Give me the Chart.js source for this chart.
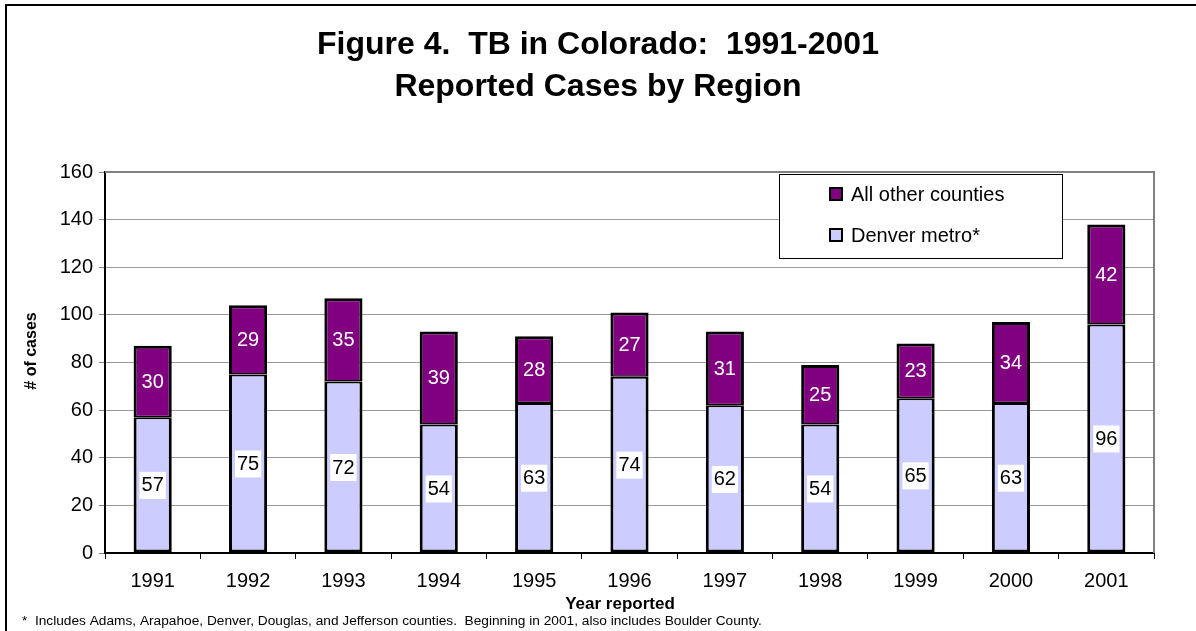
<!DOCTYPE html>
<html lang="en">
<head>
  <meta charset="UTF-8">
  <title>TB in Colorado 1991-2001</title>
  <script src="https://cdn.jsdelivr.net/npm/chart.js@4.4.1/dist/chart.umd.min.js"></script>
  <style>
    body { margin: 0; background: #fff; }
    canvas { display: block; }
  </style>
</head>
<body>
  <canvas id="myChart" width="1196" height="631"></canvas>

  <script>
  var years = ['1991', '1992', '1993', '1994', '1995', '1996', '1997', '1998', '1999', '2000', '2001'];
  var denverMetro = [57, 75, 72, 54, 63, 74, 62, 54, 65, 63, 96];
  var otherCounties = [30, 29, 35, 39, 28, 27, 31, 25, 23, 34, 42];
  var yTicks = [0, 20, 40, 60, 80, 100, 120, 140, 160];

  var FONT = "'Liberation Sans', Arial, Helvetica, sans-serif";

  // frame, titles, plot border, value labels, legend box, footnote
  var decor = {
    id: 'decor',
    beforeDraw: function(chart) {
      var ctx = chart.ctx;
      ctx.save();
      ctx.fillStyle = '#fff';
      ctx.fillRect(0, 0, chart.width, chart.height);
      ctx.strokeStyle = '#000';
      ctx.lineWidth = 2;
      ctx.beginPath();
      ctx.moveTo(6, chart.height + 5);
      ctx.lineTo(6, 5);
      ctx.lineTo(chart.width + 5, 5);
      ctx.stroke();

      ctx.fillStyle = '#000';
      ctx.textAlign = 'center';
      ctx.textBaseline = 'middle';
      ctx.font = 'bold 32px ' + FONT;
      ctx.fillText('Figure 4.  TB in Colorado:  1991-2001', 598, 45);
      ctx.fillText('Reported Cases by Region', 598, 87);
      ctx.restore();
    },
    beforeDatasetsDraw: function(chart) {
      var a = chart.chartArea, ctx = chart.ctx;
      ctx.save();
      ctx.strokeStyle = '#808080';
      ctx.lineWidth = 2;
      ctx.beginPath();
      ctx.moveTo(a.left, a.top);
      ctx.lineTo(a.right, a.top);
      ctx.lineTo(a.right, a.bottom);
      ctx.stroke();
      ctx.restore();
    },
    afterDatasetsDraw: function(chart) {
      var ctx = chart.ctx;
      ctx.save();
      ctx.font = '20px ' + FONT;
      ctx.textAlign = 'center';
      ctx.textBaseline = 'middle';
      chart.data.datasets.forEach(function(ds, i) {
        var meta = chart.getDatasetMeta(i);
        meta.data.forEach(function(bar, j) {
          var y = (bar.y + bar.base) / 2;
          var txt = String(ds.data[j]);
          if (i === 0) {
            var w = ctx.measureText(txt).width + 4;
            ctx.fillStyle = '#fff';
            ctx.fillRect(bar.x - w / 2, y - 13, w, 27);
            ctx.fillStyle = '#000';
          } else {
            ctx.fillStyle = '#fff';
          }
          ctx.fillText(txt, bar.x, y + 1);
        });
      });

      // legend
      var lx = 779, ly = 174, lw = 283, lh = 84;
      ctx.fillStyle = '#fff';
      ctx.fillRect(lx, ly, lw, lh);
      ctx.strokeStyle = '#000';
      ctx.lineWidth = 1;
      ctx.strokeRect(lx + 0.5, ly + 0.5, lw, lh);
      ctx.textAlign = 'left';
      var items = chart.data.datasets.slice().reverse();
      items.forEach(function(ds, k) {
        var cy = 194 + k * 41;
        ctx.fillStyle = ds.backgroundColor;
        ctx.fillRect(830, cy - 6, 12, 12);
        ctx.lineWidth = 2;
        ctx.strokeRect(830, cy - 6, 12, 12);
        ctx.fillStyle = '#000';
        ctx.fillText(ds.label, 851, cy + 1);
      });

      // axis titles and footnote
      ctx.font = 'bold 17px ' + FONT;
      ctx.textAlign = 'center';
      ctx.fillText('Year reported', 620, 604);
      ctx.font = 'bold 16px ' + FONT;
      ctx.save();
      ctx.translate(32, 351);
      ctx.rotate(-Math.PI / 2);
      ctx.fillText('# of cases', 0, 0);
      ctx.restore();
      ctx.font = '13.7px ' + FONT;
      ctx.textAlign = 'left';
      ctx.fillText('*  Includes Adams, Arapahoe, Denver, Douglas, and Jefferson counties.  Beginning in 2001, also includes Boulder County.', 22, 621);
      ctx.restore();
    }
  };

  var ctx = document.getElementById('myChart');
  var myChart = new Chart(ctx, {
    type: 'bar',
    data: {
      labels: years,
      datasets: [{
        label: 'Denver metro*',
        data: denverMetro,
        backgroundColor: '#CCCCFF',
        borderColor: '#000',
        borderWidth: { top: 2, left: 3, right: 3, bottom: 3 },
        borderSkipped: false
      }, {
        label: 'All other counties',
        data: otherCounties,
        backgroundColor: '#800080',
        borderColor: '#000',
        borderWidth: { top: 3, left: 3, right: 3, bottom: 1.5 },
        borderSkipped: false
      }]
    },
    options: {
      responsive: false,
      animation: false,
      devicePixelRatio: 1,
      layout: { padding: { top: 172, right: 42, bottom: 0, left: 0 } },
      datasets: { bar: { categoryPercentage: 1, barPercentage: 0.4 } },
      plugins: {
        legend: { display: false },
        title: { display: false },
        tooltip: { enabled: false }
      },
      scales: {
        x: {
          stacked: true,
          offset: true,
          afterFit: function(s) { s.height = 78; },
          grid: { offset: true, drawOnChartArea: false, drawTicks: true, tickLength: 6, color: '#000', lineWidth: 1 },
          border: { display: true, color: '#000', width: 2 },
          ticks: { color: '#000', padding: 10, font: { family: FONT, size: 20 }, maxRotation: 0 }
        },
        y: {
          stacked: true,
          min: yTicks[0],
          max: yTicks[yTicks.length - 1],
          afterFit: function(s) { s.width = 105; },
          afterBuildTicks: function(s) { s.ticks = yTicks.map(function(v) { return { value: v }; }); },
          grid: { color: '#999', lineWidth: 1, tickLength: 6, tickColor: '#808080' },
          border: { display: true, color: '#000', width: 2 },
          ticks: { color: '#000', padding: 6, font: { family: FONT, size: 20 } }
        }
      }
    },
    plugins: [decor]
  });
  </script>
</body>
</html>
